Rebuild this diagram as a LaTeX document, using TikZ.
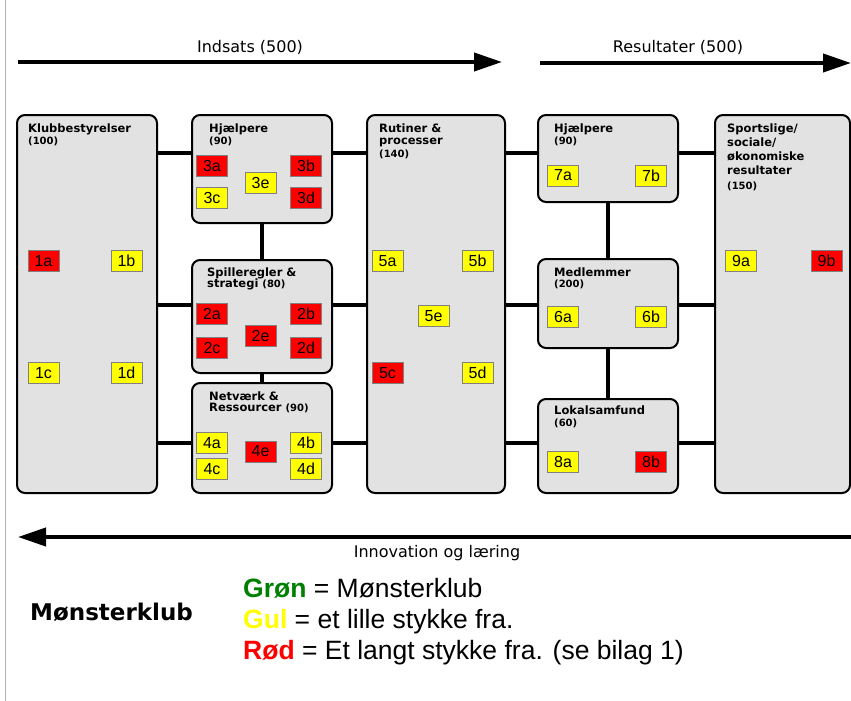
\documentclass[tikz,border=0pt]{standalone}
\usepackage{fontspec}
\setmainfont{Liberation Sans}
\newfontfamily\vfont{DejaVu Sans}
\usetikzlibrary{arrows.meta}
\definecolor{boxgray}{RGB}{226,226,226}
\definecolor{sqred}{RGB}{255,0,0}
\definecolor{sqyel}{RGB}{255,255,0}
\definecolor{grn}{RGB}{0,128,0}
\newcommand\smallnum[1]{{\fontsize{10}{13}\selectfont #1}}
\tikzset{
  panel/.style={draw=black, line width=2pt, fill=boxgray, rounded corners=8pt, inner sep=0pt, outer sep=0pt},
  sq/.style={draw=gray, line width=0.8pt, minimum width=31pt, minimum height=21pt, inner sep=0pt, font=\fontsize{16}{16}\selectfont},
  sqr/.style={sq, fill=sqred},
  sqy/.style={sq, fill=sqyel},
  conn/.style={line width=4pt},
  bigarrow/.style={line width=4pt, -{Triangle[length=28pt,width=18pt]}},
  ttl/.style={anchor=north west, inner sep=0pt, align=left, font=\vfont\bfseries\fontsize{11.5}{13}\selectfont},
  flow/.style={inner sep=0pt, font=\vfont\fontsize{16}{16}\selectfont},
  legend/.style={anchor=base west, inner sep=0pt, font=\fontsize{26.5}{30}\selectfont}
}
\begin{document}
\begin{tikzpicture}[x=1pt, y=-1pt]
\useasboundingbox (0,0) rectangle (851,701);
\fill[white] (0,0) rectangle (851,701);
\draw[gray!60, line width=0.7pt] (5,0) -- (5,701);

% flow arrows
\coordinate (a1s) at (18,62);
\coordinate (a1e) at (502,62);
\coordinate (a2s) at (540,63);
\coordinate (a2e) at (851,63);
\coordinate (a3s) at (851,537);
\coordinate (a3e) at (18,537);
\draw[bigarrow] (a1s) -- (a1e);
\draw[bigarrow] (a2s) -- (a2e);
\draw[bigarrow] (a3s) -- (a3e);
\node[flow] (lin) at (250,47) {Indsats (500)};
\node[flow] (lres) at (678,47) {Resultater (500)};
\node[flow] (linn) at (437,553) {Innovation og læring};

% panels
\node[panel, minimum width=140pt, minimum height=378pt] (klub) at (87,304) {};
\node[panel, minimum width=140pt, minimum height=108pt] (h3) at (262,169) {};
\node[panel, minimum width=140pt, minimum height=113pt] (spil) at (262,316.5) {};
\node[panel, minimum width=140pt, minimum height=110pt] (net) at (262,438) {};
\node[panel, minimum width=138pt, minimum height=378pt] (rut) at (436,304) {};
\node[panel, minimum width=140pt, minimum height=87pt] (h7) at (608,158.5) {};
\node[panel, minimum width=140pt, minimum height=89pt] (med) at (608,303.5) {};
\node[panel, minimum width=140pt, minimum height=94pt] (lok) at (608,446) {};
\node[panel, minimum width=135pt, minimum height=378pt] (sport) at (782.5,304) {};

% connectors
\coordinate (r1) at (0,153);
\coordinate (r2) at (0,305);
\coordinate (r3) at (0,443);
\draw[conn] (klub.east |- r1) -- (h3.west |- r1);
\draw[conn] (klub.east |- r2) -- (spil.west |- r2);
\draw[conn] (klub.east |- r3) -- (net.west |- r3);
\draw[conn] (h3.east |- r1) -- (rut.west |- r1);
\draw[conn] (spil.east |- r2) -- (rut.west |- r2);
\draw[conn] (net.east |- r3) -- (rut.west |- r3);
\draw[conn] (rut.east |- r1) -- (h7.west |- r1);
\draw[conn] (rut.east |- r2) -- (med.west |- r2);
\draw[conn] (rut.east |- r3) -- (lok.west |- r3);
\draw[conn] (h7.east |- r1) -- (sport.west |- r1);
\draw[conn] (med.east |- r2) -- (sport.west |- r2);
\draw[conn] (lok.east |- r3) -- (sport.west |- r3);
\draw[conn] (h3.south) -- (spil.north);
\draw[conn] (spil.south) -- (net.north);
\draw[conn] (h7.south) -- (med.north);
\draw[conn] (med.south) -- (lok.north);

% titles
\node[ttl] (tklub) at (28,124) {Klubbestyrelser\\[-1pt]\smallnum{(100)}};
\node[ttl] (th3) at (209,124) {Hjælpere\\[-1pt]\smallnum{(90)}};
\node[ttl] (tspil) at (207,268) {Spilleregler \&\\[-2pt]strategi \smallnum{(80)}};
\node[ttl] (tnet) at (209,392) {Netværk \&\\[-2pt]Ressourcer \smallnum{(90)}};
\node[ttl] (trut) at (379,124) {Rutiner \&\\[-1.5pt]processer\\[0.5pt]\smallnum{(140)}};
\node[ttl] (th7) at (554,124) {Hjælpere\\[-1pt]\smallnum{(90)}};
\node[ttl] (tmed) at (554,268) {Medlemmer\\[-2pt]\smallnum{(200)}};
\node[ttl] (tlok) at (554,406) {Lokalsamfund\\[-1pt]\smallnum{(60)}};
\node[ttl] (tsport) at (727,124) {Sportslige/\\[1pt]sociale/\\[1pt]økonomiske\\[1pt]resultater\\[2pt]\smallnum{(150)}};

% squares
\node[sqr] (s1a) at (43.5,261) {1a};
\node[sqy] (s1b) at (126.5,261) {1b};
\node[sqy] (s1c) at (43.5,373) {1c};
\node[sqy] (s1d) at (126.5,373) {1d};
\node[sqr] (s3a) at (212,165.5) {3a};
\node[sqr] (s3b) at (306,165.5) {3b};
\node[sqy] (s3c) at (212,197.5) {3c};
\node[sqr] (s3d) at (306,197.5) {3d};
\node[sqy] (s3e) at (260.5,182.5) {3e};
\node[sqr] (s2a) at (212,314) {2a};
\node[sqr] (s2b) at (306,314) {2b};
\node[sqr] (s2c) at (212,348) {2c};
\node[sqr] (s2d) at (306,348) {2d};
\node[sqr] (s2e) at (260.5,336) {2e};
\node[sqy] (s4a) at (212,443) {4a};
\node[sqy] (s4b) at (306,443) {4b};
\node[sqy] (s4c) at (212,469) {4c};
\node[sqy] (s4d) at (306,469) {4d};
\node[sqr] (s4e) at (260.5,451.5) {4e};
\node[sqy] (s5a) at (387.5,261) {5a};
\node[sqy] (s5b) at (477.5,261) {5b};
\node[sqy] (s5e) at (433.5,316) {5e};
\node[sqr] (s5c) at (387.5,373) {5c};
\node[sqy] (s5d) at (477.5,373) {5d};
\node[sqy] (s7a) at (563,175.5) {7a};
\node[sqy] (s7b) at (651,175.5) {7b};
\node[sqy] (s6a) at (563,317) {6a};
\node[sqy] (s6b) at (651,317) {6b};
\node[sqy] (s8a) at (563,462) {8a};
\node[sqr] (s8b) at (651,462) {8b};
\node[sqy] (s9a) at (741,261) {9a};
\node[sqr] (s9b) at (826.5,261) {9b};

% legend
\node[anchor=west, inner sep=0pt, font=\vfont\bfseries\fontsize{23}{23}\selectfont] (mk) at (30,612) {Mønsterklub};
\node[legend] (lg1) at (243,597) {\textbf{\color{grn}Grøn} = Mønsterklub};
\node[legend] (lg2) at (243,628) {\textbf{\color{sqyel}Gul} = et lille stykke fra.};
\node[legend] (lg3) at (243,659) {\textbf{\color{sqred}Rød} = Et langt stykke fra. (se bilag 1)};
\end{tikzpicture}
\end{document}
